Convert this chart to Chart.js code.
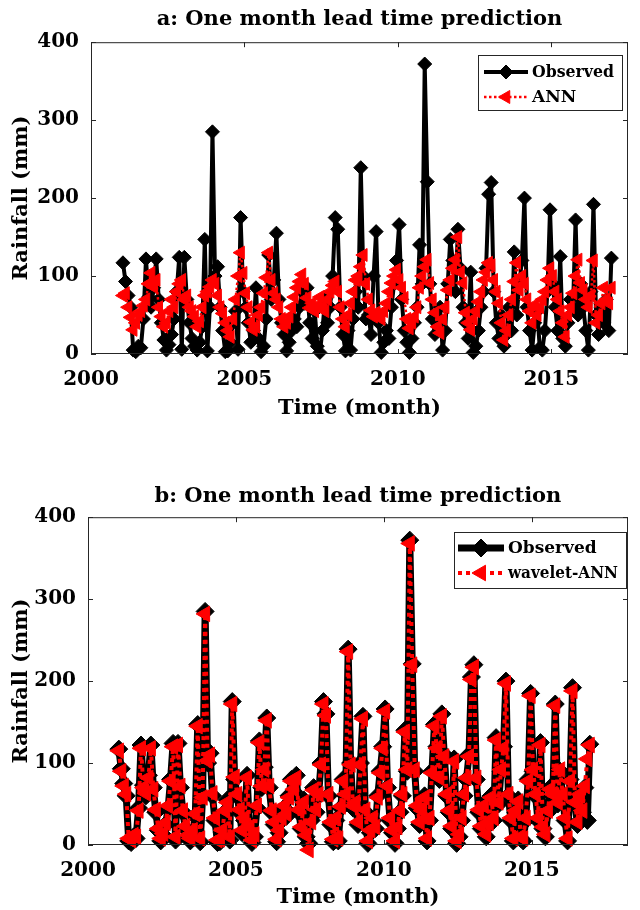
<!DOCTYPE html>
<html>
<head>
<meta charset="utf-8">
<script src="https://cdn.jsdelivr.net/npm/chart.js@4.4.1/dist/chart.umd.min.js"></script>
<style>
  html, body { margin: 0; padding: 0; background: #fff; }
  #wrap { position: relative; width: 640px; height: 910px; }
  .panel { position: absolute; left: 0; width: 640px; height: 455px; }
</style>
</head>
<body>
<div id="wrap">
  <div class="panel" style="top:0"><canvas id="chart-a" width="640" height="455"></canvas></div>
  <div class="panel" style="top:455px"><canvas id="chart-b" width="640" height="455"></canvas></div>
</div>
<script>
// --- Data (monthly rainfall, mm), Jan 2001 .. Dec 2016 ---
var years = [2001, 2002, 2003, 2004, 2005, 2006, 2007, 2008, 2009, 2010, 2011, 2012, 2013, 2014, 2015, 2016];

var observed = [
  117, 93, 75, 60, 5, 3, 10, 8, 45, 122, 73, 60,
  85, 122, 70, 40, 18, 5, 12, 25, 45, 80, 124, 6,
  124, 70, 40, 20, 10, 5, 15, 35, 147, 4, 60, 285,
  100, 112, 60, 30, 3, 4, 15, 40, 55, 6, 175, 80,
  60, 40, 15, 30, 85, 20, 3, 10, 45, 127, 70, 95,
  155, 70, 40, 25, 4, 15, 30, 45, 35, 60, 80, 65,
  85, 40, 20, 55, 10, 2, 30, 70, 40, 60, 100, 175,
  160, 60, 25, 4, 30, 5, 45, 80, 60, 239, 100, 45,
  50, 25, 100, 157, 40, 2, 15, 30, 20, 60, 90, 120,
  166, 70, 30, 15, 2, 20, 40, 60, 140, 90, 372, 221,
  90, 45, 25, 40, 60, 5, 30, 90, 147, 120, 80, 160,
  110, 60, 40, 20, 105, 2, 10, 30, 60, 80, 110, 205,
  220, 80, 40, 20, 50, 10, 25, 60, 30, 131, 50, 90,
  120, 200, 60, 30, 5, 40, 55, 8, 5, 30, 80, 185,
  90, 60, 30, 125, 20, 10, 40, 70, 60, 172, 50, 90,
  60, 30, 5, 80, 192, 50, 25, 60, 40, 70, 30, 123
];

var ann = [
  75, 78, 60, 47, 31, 40, 50, 55, 62, 70, 90, 104,
  86, 95, 60, 48, 35, 40, 55, 70, 60, 80, 90, 95,
  70, 75, 60, 55, 48, 35, 42, 60, 75, 80, 86, 95,
  90, 75, 60, 52, 40, 30, 22, 45, 70, 100, 130, 104,
  78, 60, 41, 31, 35, 50, 60, 78, 98, 130, 95, 78,
  70, 60, 45, 35, 40, 48, 60, 73, 85, 93, 102, 90,
  72, 59, 65, 55, 62, 73, 60, 55, 70, 80, 88, 93,
  80, 60, 45, 35, 50, 65, 80, 95, 100, 112, 127, 90,
  70, 56, 48, 53, 50, 45, 55, 65, 80, 91, 100, 108,
  95, 85, 72, 45, 33, 40, 48, 60, 85, 100, 112, 121,
  91, 70, 53, 35, 27, 45, 60, 82, 95, 110, 121, 150,
  105, 91, 53, 40, 31, 45, 55, 67, 80, 95, 105, 117,
  114, 95, 80, 65, 40, 18, 30, 50, 70, 93, 117, 82,
  100, 90, 70, 55, 40, 63, 50, 60, 70, 80, 95, 110,
  100, 80, 70, 55, 40, 22, 50, 60, 78, 100, 121, 91,
  82, 70, 60, 75, 120, 40, 50, 65, 85, 70, 65, 85
];

var waveletAnn = [
  115, 90, 72, 62, 8, 6, 12, 10, 42, 118, 70, 63,
  82, 118, 68, 43, 20, 8, 14, 27, 48, 78, 120, 10,
  122, 72, 42, 23, 12, 8, 18, 38, 145, 8, 58, 282,
  103, 110, 63, 33, 6, 7, 18, 42, 52, 10, 172, 83,
  62, 43, 18, 33, 82, 22, 6, 13, 48, 125, 72, 92,
  152, 72, 42, 28, 7, 18, 33, 48, 38, 58, 78, 68,
  82, 43, 22, 52, 12, -6, 28, 67, 43, 62, 98, 172,
  158, 62, 28, 7, 33, 8, 47, 78, 62, 236, 98, 48,
  52, 28, 98, 154, 43, 5, 18, 33, 22, 58, 88, 118,
  163, 72, 33, 18, 5, 22, 42, 62, 138, 92, 368, 220,
  92, 48, 28, 42, 58, 8, 33, 88, 145, 118, 82, 157,
  108, 62, 42, 23, 102, 5, 13, 33, 62, 82, 108, 202,
  217, 82, 43, 23, 48, 13, 27, 58, 33, 128, 52, 92,
  118, 197, 62, 33, 8, 42, 53, 10, 8, 33, 78, 182,
  92, 62, 33, 122, 22, 13, 42, 68, 62, 170, 52, 92,
  62, 33, 8, 78, 188, 52, 28, 62, 42, 72, 105, 122
];

var xTicks = [2000, 2005, 2010, 2015, 2020];
var yTicks = [0, 100, 200, 300, 400];

// mid-month positions in decimal years
var months = [];
years.forEach(function (y) {
  for (var m = 0; m < 12; m++) months.push(y + (m + 0.5) / 12);
});

function toPoints(arr) {
  return arr.map(function (v, i) { return { x: months[i], y: v }; });
}

var FONT = '"DejaVu Serif", serif';
var INK = '#000';

// --- Box around the axes with inward ticks (MATLAB style) ---
var framePlugin = {
  id: 'frame',
  afterDraw: function (chart) {
    var a = chart.chartArea, ctx = chart.ctx;
    var xs = chart.scales.x, ys = chart.scales.y;
    var tl = 5;
    ctx.save();
    ctx.strokeStyle = '#262626';
    ctx.lineWidth = 1;
    ctx.strokeRect(a.left + 0.5, a.top + 0.5, a.right - a.left - 1, a.bottom - a.top - 1);
    ctx.beginPath();
    xTicks.forEach(function (t) {
      if (t < xs.min || t > xs.max) return;
      var px = Math.round(xs.getPixelForValue(t)) + 0.5;
      ctx.moveTo(px, a.bottom); ctx.lineTo(px, a.bottom - tl);
      ctx.moveTo(px, a.top); ctx.lineTo(px, a.top + tl);
    });
    yTicks.forEach(function (t) {
      var py = Math.round(ys.getPixelForValue(t)) + 0.5;
      ctx.moveTo(a.left, py); ctx.lineTo(a.left + tl, py);
      ctx.moveTo(a.right, py); ctx.lineTo(a.right - tl, py);
    });
    ctx.stroke();
    ctx.restore();
  }
};

// --- Legend box inside the plot, top right ---
var boxLegendPlugin = {
  id: 'boxLegend',
  afterDraw: function (chart, args, opts) {
    if (!opts || !opts.box) return;
    var ctx = chart.ctx, b = opts.box;
    ctx.save();
    ctx.fillStyle = '#fff';
    ctx.fillRect(b.x, b.y, b.w, b.h);
    ctx.strokeStyle = '#262626';
    ctx.lineWidth = 1;
    ctx.strokeRect(b.x + 0.5, b.y + 0.5, b.w, b.h);
    chart.data.datasets.forEach(function (ds, i) {
      var y = b.y + opts.rows[i];
      ctx.strokeStyle = ds.borderColor;
      ctx.lineWidth = ds.borderWidth;
      ctx.setLineDash(ds.borderDash || []);
      ctx.beginPath();
      ctx.moveTo(b.x + opts.lineFrom, y);
      ctx.lineTo(b.x + opts.lineTo, y);
      ctx.stroke();
      ctx.setLineDash([]);
      ctx.fillStyle = ds.pointBackgroundColor;
      ctx.strokeStyle = ds.pointBorderColor;
      ctx.lineWidth = 1;
      Chart.helpers.drawPoint(ctx, {
        pointStyle: ds.pointStyle,
        rotation: ds.pointRotation || 0,
        radius: ds.pointRadius,
        borderWidth: 1
      }, b.x + (opts.lineFrom + opts.lineTo) / 2, y);
      ctx.fillStyle = INK;
      ctx.font = 'bold ' + opts.fontSize + 'px ' + FONT;
      ctx.textBaseline = 'middle';
      ctx.textAlign = 'left';
      // squeeze to the box, the original face is narrower than DejaVu
      ctx.fillText(ds.label, b.x + opts.textX, y + 1, b.w - opts.textX - 8);
    });
    ctx.restore();
  }
};

function makeChart(id, cfg) {
  var ctx = document.getElementById(id).getContext('2d');
  return new Chart(ctx, {
    type: 'line',
    data: {
      datasets: [
        {
          label: 'Observed',
          data: toPoints(observed),
          borderColor: '#000',
          borderWidth: cfg.obsWidth,
          borderJoinStyle: 'round',
          pointStyle: 'rectRot',
          pointRadius: cfg.obsRadius,
          pointBackgroundColor: '#000',
          pointBorderColor: '#000',
          pointBorderWidth: 1,
          tension: 0,
          clip: false,
          order: 2
        },
        {
          label: cfg.modelLabel,
          data: toPoints(cfg.model),
          borderColor: '#ff0000',
          borderWidth: cfg.modelWidth,
          borderDash: cfg.modelDash,
          borderJoinStyle: 'round',
          pointStyle: 'triangle',
          pointRotation: -90,
          pointRadius: cfg.modelRadius,
          pointBackgroundColor: '#ff0000',
          pointBorderColor: '#ff0000',
          pointBorderWidth: 1,
          tension: 0,
          clip: false,
          order: 1
        }
      ]
    },
    options: {
      responsive: false,
      animation: false,
      events: [],
      layout: { padding: { left: 0, right: 12, top: 0, bottom: 0 } },
      plugins: {
        legend: { display: false },
        tooltip: { enabled: false },
        title: {
          display: true,
          text: cfg.title,
          fullSize: false,
          color: INK,
          font: { family: FONT, size: 21, weight: 'bold' },
          padding: cfg.titlePad
        },
        boxLegend: cfg.legend
      },
      scales: {
        x: {
          type: 'linear',
          min: 2000,
          max: cfg.xMax,
          grid: { display: false, drawTicks: false },
          border: { display: false },
          afterBuildTicks: function (s) {
            s.ticks = xTicks.filter(function (v) { return v <= s.max; })
              .map(function (v) { return { value: v }; });
          },
          afterFit: function (s) { s.height = cfg.xHeight; },
          ticks: {
            color: INK,
            padding: 14,
            maxRotation: 0,
            font: { family: FONT, size: 20, weight: 'bold' },
            callback: function (v) { return String(v); }
          },
          title: {
            display: true,
            text: 'Time (month)',
            color: INK,
            font: { family: FONT, size: 21, weight: 'bold' },
            padding: { top: 0, bottom: cfg.xTitlePad }
          }
        },
        y: {
          min: 0,
          max: 400,
          grid: { display: false, drawTicks: false },
          border: { display: false },
          afterBuildTicks: function (s) {
            s.ticks = yTicks.map(function (v) { return { value: v }; });
          },
          afterFit: function (s) { s.width = cfg.yWidth; },
          ticks: {
            color: INK,
            padding: 12,
            font: { family: FONT, size: 20, weight: 'bold' }
          },
          title: {
            display: true,
            text: 'Rainfall (mm)',
            color: INK,
            font: { family: FONT, size: 21, weight: 'bold' },
            padding: { top: 9, bottom: 0 }
          }
        }
      }
    },
    plugins: [framePlugin, boxLegendPlugin]
  });
}

makeChart('chart-a', {
  title: 'a: One month lead time prediction',
  titlePad: { top: 7, bottom: 10 },
  model: ann,
  modelLabel: 'ANN',
  obsWidth: 4, obsRadius: 7,
  modelWidth: 2.5, modelDash: [2.5, 2.5], modelRadius: 7.5,
  xMax: 2017.5,
  xHeight: 101,
  xTitlePad: 34,
  yWidth: 91,
  legend: {
    box: { x: 478, y: 55, w: 144, h: 55 },
    rows: [17, 42],
    lineFrom: 6, lineTo: 50, textX: 54, fontSize: 17
  }
});

makeChart('chart-b', {
  title: 'b: One month lead time prediction',
  titlePad: { top: 29, bottom: 8 },
  model: waveletAnn,
  modelLabel: 'wavelet-ANN',
  obsWidth: 7, obsRadius: 9,
  modelWidth: 4, modelDash: [4, 4], modelRadius: 9,
  xMax: 2018.25,
  xHeight: 65,
  xTitlePad: 0,
  yWidth: 88,
  legend: {
    box: { x: 454, y: 77, w: 172, h: 56 },
    rows: [16, 41],
    lineFrom: 4, lineTo: 50, textX: 54, fontSize: 17
  }
});
</script>
</body>
</html>
